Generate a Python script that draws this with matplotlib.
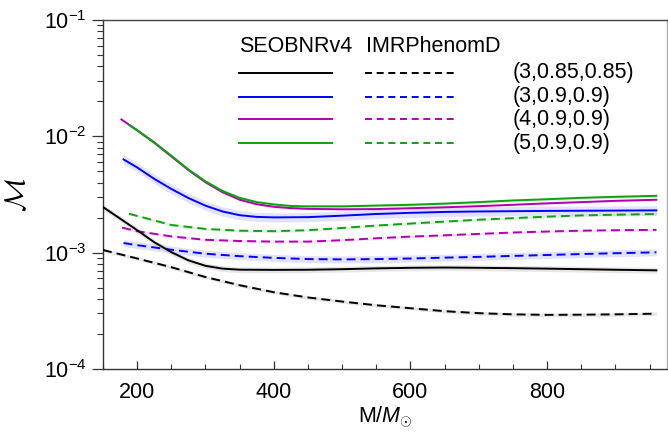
import matplotlib
matplotlib.use("Agg")
import matplotlib.pyplot as plt
import numpy as np
from matplotlib.ticker import LogLocator, MultipleLocator, FixedLocator, NullFormatter

plt.rcParams['font.family'] = ['Liberation Sans', 'DejaVu Sans']
plt.rcParams['mathtext.fontset'] = 'custom'
plt.rcParams['mathtext.rm'] = 'Liberation Sans'
plt.rcParams['mathtext.it'] = 'Liberation Sans:italic'
plt.rcParams['mathtext.bf'] = 'Liberation Sans:bold'

# ---------------- data ----------------
labels = ["(3,0.85,0.85)", "(3,0.9,0.9)", "(4,0.9,0.9)", "(5,0.9,0.9)"]
colors = ["#000000", "#0000ff", "#b000b0", "#10a010"]
band_colors = ["#a0a0a0", "#9a9aff", "#d080d0", "#70c070"]

# SEOBNRv4 (solid)
x_seob_1 = [150, 175, 200, 225, 250, 275, 300, 325, 350, 400, 450, 500, 550, 600, 650, 700, 750, 800, 850, 900, 960]
y_seob_1 = [2.466e-3, 1.963e-3, 1.56e-3, 1.23e-3, 1.01e-3, 8.59e-4, 7.71e-4, 7.29e-4, 7.14e-4, 7.11e-4, 7.13e-4,
            7.21e-4, 7.33e-4, 7.41e-4, 7.45e-4, 7.41e-4, 7.36e-4, 7.29e-4, 7.21e-4, 7.13e-4, 7.05e-4]
x_seob_2 = [180, 200, 225, 250, 275, 300, 325, 350, 375, 400, 450, 500, 550, 600, 650, 700, 800, 900, 960]
y_seob_2 = [6.34e-3, 5.40e-3, 4.31e-3, 3.53e-3, 2.95e-3, 2.535e-3, 2.26e-3, 2.10e-3, 2.03e-3, 2.01e-3,
            2.02e-3, 2.08e-3, 2.15e-3, 2.20e-3, 2.24e-3, 2.26e-3, 2.285e-3, 2.30e-3, 2.31e-3]
x_seob_3 = [177, 200, 225, 250, 275, 300, 325, 350, 375, 400, 425, 450, 500, 550, 600, 650, 700, 750, 800, 850, 900, 960]
y_seob_3 = [1.396e-2, 1.127e-2, 8.81e-3, 6.73e-3, 5.13e-3, 4.03e-3, 3.31e-3, 2.85e-3, 2.61e-3, 2.48e-3,
            2.415e-3, 2.38e-3, 2.36e-3, 2.37e-3, 2.41e-3, 2.455e-3, 2.51e-3, 2.58e-3, 2.655e-3, 2.72e-3,
            2.79e-3, 2.85e-3]
x_seob_4 = [189, 200, 225, 250, 275, 300, 325, 350, 375, 400, 425, 450, 500, 550, 600, 650, 700, 750, 800, 850, 900, 960]
y_seob_4 = [1.245e-2, 1.127e-2, 8.87e-3, 6.81e-3, 5.19e-3, 4.10e-3, 3.39e-3, 2.96e-3, 2.72e-3, 2.60e-3,
            2.52e-3, 2.50e-3, 2.50e-3, 2.54e-3, 2.58e-3, 2.64e-3, 2.72e-3, 2.81e-3, 2.88e-3, 2.96e-3,
            3.02e-3, 3.08e-3]

# IMRPhenomD (dashed)
x_imr_1 = [150, 200, 250, 300, 350, 400, 450, 500, 550, 600, 650, 700, 750, 800, 850, 900, 960]
y_imr_1 = [1.054e-3, 8.91e-4, 7.50e-4, 6.17e-4, 5.25e-4, 4.57e-4, 4.12e-4, 3.80e-4, 3.53e-4, 3.33e-4,
           3.14e-4, 3.02e-4, 2.95e-4, 2.92e-4, 2.93e-4, 2.95e-4, 2.99e-4]
x_imr_2 = [180, 200, 250, 300, 350, 400, 450, 500, 550, 600, 650, 700, 750, 800, 850, 900, 960]
y_imr_2 = [1.21e-3, 1.16e-3, 1.06e-3, 9.79e-4, 9.33e-4, 9.02e-4, 8.81e-4, 8.75e-4, 8.81e-4, 8.91e-4,
           9.06e-4, 9.20e-4, 9.38e-4, 9.55e-4, 9.73e-4, 9.89e-4, 1.007e-3]
x_imr_3 = [178, 200, 250, 300, 350, 400, 450, 500, 550, 600, 650, 700, 750, 800, 850, 900, 960]
y_imr_3 = [1.64e-3, 1.53e-3, 1.38e-3, 1.29e-3, 1.26e-3, 1.245e-3, 1.245e-3, 1.28e-3, 1.33e-3, 1.375e-3,
           1.41e-3, 1.45e-3, 1.49e-3, 1.52e-3, 1.545e-3, 1.56e-3, 1.57e-3]
x_imr_4 = [188, 200, 250, 300, 350, 400, 450, 500, 550, 600, 650, 700, 750, 800, 850, 900, 960]
y_imr_4 = [2.16e-3, 2.07e-3, 1.73e-3, 1.60e-3, 1.545e-3, 1.53e-3, 1.56e-3, 1.63e-3, 1.71e-3, 1.78e-3,
           1.85e-3, 1.92e-3, 1.98e-3, 2.04e-3, 2.09e-3, 2.12e-3, 2.15e-3]

# half-width of shaded uncertainty bands (dex)
band_seob = [0.025, 0.04, 0.01, 0.015]
band_imr = [0.015, 0.03, 0.012, 0.012]
band_alpha = [0.25, 0.28, 0.2, 0.2]

x_ticks = [200, 400, 600, 800]

# ---------------- figure ----------------
FS = 15.5
fig = plt.figure(figsize=(6.68, 4.33), dpi=100)
ax = fig.add_axes([0.1542, 0.1478, 0.8448, 0.806])

seob = [(x_seob_1, y_seob_1), (x_seob_2, y_seob_2), (x_seob_3, y_seob_3), (x_seob_4, y_seob_4)]
imr = [(x_imr_1, y_imr_1), (x_imr_2, y_imr_2), (x_imr_3, y_imr_3), (x_imr_4, y_imr_4)]

DASH_PLOT = [4.6, 2.6]
DASH_LEG = [3.6, 2.4]
LW = 1.4

for i in range(4):
    xs, ys = np.array(seob[i][0]), np.array(seob[i][1])
    ax.fill_between(xs, ys * 10 ** (-band_seob[i]), ys * 10 ** band_seob[i],
                    color=band_colors[i], alpha=band_alpha[i], lw=0, zorder=1)
    xs, ys = np.array(imr[i][0]), np.array(imr[i][1])
    ax.fill_between(xs, ys * 10 ** (-band_imr[i]), ys * 10 ** band_imr[i],
                    color=band_colors[i], alpha=band_alpha[i], lw=0, zorder=1)

for i in range(4):
    ax.plot(imr[i][0], imr[i][1], color=colors[i], lw=LW, dashes=DASH_PLOT, zorder=3)
for i in range(4):
    ax.plot(seob[i][0], seob[i][1], color=colors[i], lw=LW, zorder=4)

ax.set_yscale('log')
ax.set_xlim(150, 976)
ax.set_ylim(1e-4, 1e-1)

ax.xaxis.set_major_locator(FixedLocator(x_ticks))
ax.xaxis.set_minor_locator(MultipleLocator(50))
ax.yaxis.set_major_locator(LogLocator(base=10, numticks=10))
ax.yaxis.set_minor_locator(LogLocator(base=10, subs=np.arange(2, 10), numticks=10))
ax.yaxis.set_minor_formatter(NullFormatter())

ax.tick_params(axis='x', which='major', direction='in', length=6, width=0.9, pad=9,
               labelsize=FS, color='#333333')
ax.tick_params(axis='x', which='minor', direction='in', length=3.5, width=0.8, color='#333333')
ax.tick_params(axis='y', which='major', direction='out', length=8, width=0.9, pad=4,
               labelsize=FS, color='#333333')
ax.tick_params(axis='y', which='minor', direction='out', length=4, width=0.8, color='#333333')

for s in ['left', 'bottom']:
    ax.spines[s].set_color('#333333')
    ax.spines[s].set_linewidth(1.0)
ax.spines['top'].set_color('#444444')
ax.spines['top'].set_linewidth(1.0)
ax.spines['right'].set_color('#aaaaaa')
ax.spines['right'].set_linewidth(1.0)

ax.set_xlabel(r'M/$M_{\odot}$', fontsize=FS, labelpad=1)
ax.set_ylabel(r'$\mathcal{M}$', fontsize=FS + 5, labelpad=9, math_fontfamily='cm')

# ---------------- legend (manual, in axes fraction) ----------------
tr = ax.transAxes
ax.text(0.241, 0.9236, "SEOBNRv4", transform=tr, fontsize=FS, ha='left', va='center')
ax.text(0.466, 0.9236, "IMRPhenomD", transform=tr, fontsize=FS, ha='left', va='center')
rows = [0.849, 0.780, 0.7155, 0.6467]
for i in range(4):
    ax.plot([0.241, 0.406], [rows[i], rows[i]], transform=tr, color=colors[i], lw=LW)
    ax.plot([0.464, 0.629], [rows[i], rows[i]], transform=tr, color=colors[i], lw=LW, dashes=DASH_LEG)
    ax.text(0.7266, rows[i], labels[i], transform=tr, fontsize=FS, ha='left', va='center')

fig.savefig("out.png", dpi=100)
